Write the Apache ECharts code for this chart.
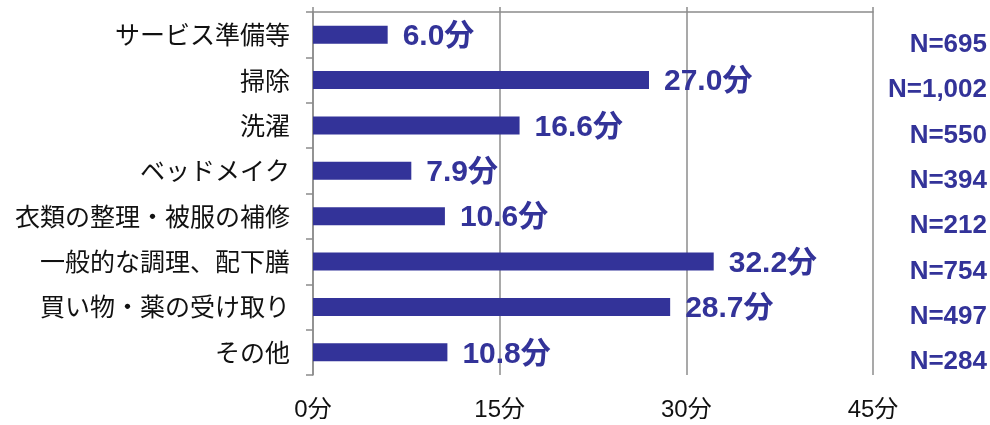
<!DOCTYPE html>
<html>
<head>
<meta charset="utf-8">
<script src="https://cdn.jsdelivr.net/npm/echarts@6/dist/echarts.min.js"></script>
<style>html,body{margin:0;padding:0;background:#fff;}#c{width:990px;height:425px;}</style>
</head>
<body>
<div id="c"></div>
<script>
const categories = ['サービス準備等','掃除','洗濯','ベッドメイク','衣類の整理・被服の補修','一般的な調理、配下膳','買い物・薬の受け取り','その他'];
const values = [6.0, 27.0, 16.6, 7.9, 10.6, 32.2, 28.7, 10.8];
const nLabels = ['N=695','N=1,002','N=550','N=394','N=212','N=754','N=497','N=284'];
const xTicks = [0, 15, 30, 45];

const blue = '#333399';
const gray = '#8c8c8c';
const chart = echarts.init(document.getElementById('c'));
chart.setOption({
  animation: false,
  grid: { left: 313, right: 117, top: 12, bottom: 50, containLabel: false },
  xAxis: [
    { type: 'value', position: 'top', min: xTicks[0], max: xTicks[xTicks.length-1], interval: 15,
      axisLine: { show: true, lineStyle: { color: gray, width: 1.5 } },
      axisTick: { show: true, inside: false, length: 5, lineStyle: { color: gray, width: 1.5 } },
      axisLabel: { show: false },
      splitLine: { show: true, lineStyle: { color: gray, width: 1.5 } } },
    { type: 'value', position: 'bottom', min: xTicks[0], max: xTicks[xTicks.length-1], interval: 15,
      axisLine: { show: false }, axisTick: { show: false }, splitLine: { show: false },
      axisLabel: { show: true, margin: 23, color: '#111', fontSize: 24, fontFamily: 'Liberation Sans, Noto Sans CJK JP',
        formatter: v => v + '分' } }
  ],
  yAxis: [
    { type: 'category', data: categories, inverse: true,
      axisLine: { show: true, lineStyle: { color: gray, width: 1.5 } },
      axisTick: { show: true, length: 7, lineStyle: { color: gray, width: 1.5 } },
      axisLabel: { margin: 23, color: '#111', fontSize: 25, fontFamily: 'Noto Sans CJK JP' } },
    { type: 'category', data: nLabels, inverse: true, position: 'right',
      axisLine: { show: false }, axisTick: { show: false },
      axisLabel: { margin: 114, align: 'right', verticalAlign: 'top', lineHeight: 20, color: blue, fontSize: 26, fontWeight: 'bold',
        fontFamily: 'Liberation Sans' } }
  ],
  series: [{
    type: 'bar', data: values, xAxisIndex: 0, yAxisIndex: 0, barWidth: 18,
    itemStyle: { color: blue },
    label: { show: true, position: 'right', distance: 15, color: blue, fontSize: 30, fontWeight: 'bold',
      fontFamily: 'Liberation Sans, Noto Sans CJK JP', formatter: p => p.value.toFixed(1) + '分', offset: [0, 2] }
  }]
});
</script>
</body>
</html>
